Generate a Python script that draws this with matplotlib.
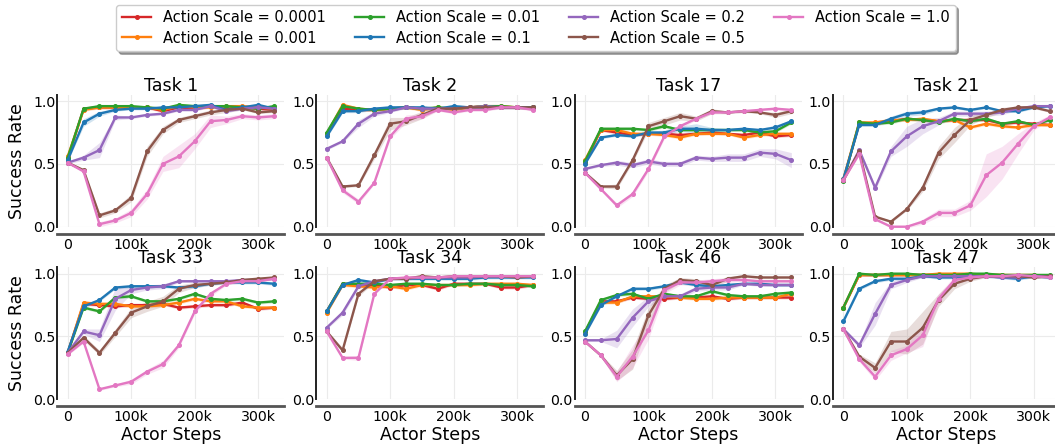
import matplotlib
matplotlib.use("Agg")
import matplotlib.pyplot as plt
import numpy as np

steps = [0, 25000, 50000, 75000, 100000, 125000, 150000, 175000, 200000,
         225000, 250000, 275000, 300000, 325000]
scale_labels = ["Action Scale = 0.0001", "Action Scale = 0.001", "Action Scale = 0.01",
                "Action Scale = 0.1", "Action Scale = 0.2", "Action Scale = 0.5",
                "Action Scale = 1.0"]
colors = ["#d62728", "#ff7f0e", "#2ca02c", "#1f77b4", "#9467bd", "#8c564b", "#e377c2"]
task_names = ["Task 1", "Task 2", "Task 17", "Task 21", "Task 33", "Task 34", "Task 46", "Task 47"]

# mean success rate per task, one list per action scale (0.0001, 0.001, 0.01, 0.1, 0.2, 0.5, 1.0)
task1 = [
    [.54, .94, .95, .95, .95, .95, .92, .95, .94, .96, .94, .95, .94, .93],
    [.56, .93, .95, .95, .95, .95, .93, .96, .95, .95, .96, .96, .95, .94],
    [.55, .94, .96, .96, .96, .95, .94, .97, .96, .96, .96, .95, .94, .96],
    [.53, .83, .90, .93, .94, .94, .95, .95, .96, .97, .93, .95, .97, .94],
    [.51, .55, .61, .87, .87, .89, .90, .93, .93, .96, .92, .94, .95, .94],
    [.51, .45, .09, .13, .23, .60, .77, .85, .88, .91, .93, .94, .91, .92],
    [.51, .44, .02, .05, .11, .26, .50, .56, .68, .84, .85, .88, .87, .88],
]
task2 = [
    [.74, .94, .93, .93, .94, .95, .94, .94, .94, .95, .96, .95, .95, .95],
    [.74, .97, .94, .93, .94, .95, .93, .95, .93, .95, .96, .96, .95, .95],
    [.75, .96, .94, .93, .94, .95, .94, .95, .94, .95, .96, .96, .95, .95],
    [.72, .92, .92, .94, .95, .95, .95, .94, .96, .95, .95, .95, .95, .95],
    [.62, .68, .82, .90, .92, .95, .94, .94, .94, .95, .96, .95, .95, .94],
    [.55, .32, .33, .57, .82, .84, .89, .94, .94, .95, .95, .95, .95, .95],
    [.55, .29, .20, .35, .72, .86, .88, .93, .91, .93, .93, .95, .95, .93],
]
task17 = [
    [.51, .77, .75, .73, .74, .74, .73, .74, .75, .74, .73, .75, .72, .73],
    [.53, .77, .77, .74, .74, .73, .71, .74, .74, .74, .71, .73, .74, .74],
    [.52, .78, .78, .78, .77, .80, .77, .77, .77, .77, .77, .75, .76, .83],
    [.50, .71, .73, .72, .75, .75, .78, .78, .77, .77, .78, .77, .79, .84],
    [.46, .49, .51, .49, .52, .50, .50, .55, .54, .55, .55, .59, .58, .53],
    [.43, .32, .32, .53, .80, .84, .88, .86, .92, .91, .92, .91, .89, .92],
    [.43, .30, .17, .26, .46, .72, .80, .86, .91, .91, .92, .93, .94, .93],
]
task21 = [
    [.37, .82, .82, .84, .86, .85, .84, .85, .85, .85, .82, .83, .82, .81],
    [.38, .83, .83, .85, .85, .86, .84, .85, .79, .82, .80, .79, .81, .81],
    [.36, .83, .82, .83, .86, .85, .83, .86, .84, .86, .82, .84, .81, .85],
    [.38, .81, .81, .86, .90, .91, .94, .95, .93, .95, .92, .92, .95, .96],
    [.37, .61, .31, .60, .72, .80, .84, .90, .90, .90, .91, .94, .96, .96],
    [.37, .60, .08, .04, .14, .31, .59, .73, .85, .89, .93, .95, .95, .92],
    [.37, .58, .06, .00, .00, .04, .11, .11, .17, .41, .51, .66, .80, .87],
]
task33 = [
    [.37, .76, .75, .74, .75, .75, .76, .73, .74, .75, .75, .77, .72, .73],
    [.37, .77, .76, .76, .74, .74, .75, .77, .80, .78, .78, .74, .73, .73],
    [.37, .73, .70, .81, .82, .78, .78, .80, .84, .80, .79, .80, .77, .78],
    [.38, .74, .79, .89, .90, .90, .90, .89, .90, .92, .93, .93, .93, .92],
    [.37, .54, .51, .80, .87, .89, .90, .94, .94, .94, .94, .95, .95, .96],
    [.37, .49, .37, .53, .69, .74, .78, .88, .91, .92, .93, .95, .96, .97],
    [.36, .46, .08, .11, .14, .22, .28, .43, .70, .84, .92, .94, .94, .96],
]
task34 = [
    [.70, .92, .91, .91, .89, .91, .91, .88, .92, .92, .92, .89, .89, .91],
    [.69, .91, .90, .89, .90, .88, .91, .91, .91, .91, .92, .92, .92, .91],
    [.70, .92, .92, .92, .91, .92, .92, .91, .91, .92, .92, .91, .91, .90],
    [.70, .91, .95, .93, .96, .96, .96, .96, .96, .96, .97, .97, .97, .97],
    [.57, .69, .90, .94, .96, .96, .97, .97, .97, .97, .98, .98, .98, .98],
    [.54, .39, .84, .94, .96, .96, .98, .97, .98, .98, .98, .98, .97, .98],
    [.54, .33, .33, .84, .96, .97, .97, .97, .98, .98, .98, .98, .98, .98],
]
task46 = [
    [.53, .78, .78, .81, .80, .80, .81, .81, .82, .80, .81, .81, .81, .81],
    [.53, .77, .77, .82, .82, .82, .81, .80, .80, .81, .81, .81, .81, .84],
    [.54, .79, .83, .84, .80, .84, .82, .82, .86, .83, .82, .82, .84, .85],
    [.52, .75, .82, .88, .88, .90, .93, .91, .90, .91, .92, .92, .91, .91],
    [.47, .47, .48, .65, .78, .82, .82, .88, .89, .89, .92, .91, .91, .91],
    [.46, .35, .19, .32, .67, .88, .95, .94, .91, .96, .98, .97, .97, .97],
    [.46, .35, .18, .34, .55, .87, .93, .93, .94, .95, .95, .94, .94, .94],
]
task47 = [
    [.73, .99, .99, .99, .99, .99, .99, .99, .99, .99, .99, .98, .98, .98],
    [.73, .99, .99, .99, .99, .99, 1.0, 1.0, 1.0, .99, .99, .99, .99, .98],
    [.73, 1.0, .99, 1.0, 1.0, .99, .99, .99, 1.0, 1.0, .99, .99, .99, .99],
    [.62, .88, .94, .96, .96, .98, .97, .97, .98, .98, .97, .96, .98, .97],
    [.56, .43, .68, .91, .95, .98, .98, .98, .98, .98, .97, .97, .98, .98],
    [.56, .34, .25, .46, .46, .57, .79, .92, .96, .98, .98, .98, .97, .98],
    [.56, .32, .18, .35, .40, .51, .80, .95, .97, .98, .98, .99, .98, .97],
]
all_means = [task1, task2, task17, task21, task33, task34, task46, task47]

# half-width of the shaded band, for the series where it is visibly wide
# (task index -> {series index: 14 values}); other series use base_band
base_band = 0.012
bands = {
    0: {3: [.01, .03, .02, .01, .01, .01, .01, .01, .01, .01, .01, .01, .01, .01],
        4: [.01, .02, .06, .02, .01, .01, .01, .01, .01, .01, .01, .01, .01, .01],
        5: [.01, .01, .02, .02, .03, .04, .03, .02, .02, .02, .02, .01, .01, .01],
        6: [.01, .01, .02, .02, .03, .04, .06, .09, .06, .05, .03, .02, .02, .02]},
    1: {4: [.01, .01, .03, .02, .01, .01, .01, .01, .01, .01, .01, .01, .01, .01],
        5: [.01, .01, .01, .03, .05, .03, .03, .01, .01, .01, .01, .01, .01, .01],
        6: [.01, .02, .02, .01, .02, .03, .02, .01, .01, .01, .01, .01, .01, .01]},
    2: {3: [.01, .01, .01, .01, .01, .02, .02, .04, .02, .01, .01, .01, .02, .01],
        4: [.01, .01, .02, .02, .02, .02, .02, .02, .02, .03, .03, .03, .04, .06],
        5: [.01, .01, .02, .02, .03, .03, .03, .02, .02, .01, .01, .01, .02, .02],
        6: [.01, .01, .02, .02, .02, .02, .02, .01, .01, .01, .01, .01, .01, .01]},
    3: {3: [.01, .01, .01, .02, .02, .02, .01, .01, .01, .01, .01, .01, .01, .01],
        4: [.01, .02, .02, .04, .08, .06, .03, .02, .02, .02, .02, .01, .01, .01],
        5: [.01, .01, .01, .01, .01, .03, .05, .06, .04, .02, .02, .01, .01, .01],
        6: [.01, .01, .01, .01, .01, .02, .03, .03, .04, .17, .13, .08, .03, .02]},
    4: {4: [.01, .02, .05, .09, .03, .02, .02, .01, .01, .01, .01, .01, .01, .01],
        5: [.01, .02, .02, .03, .04, .04, .04, .03, .02, .01, .01, .01, .01, .01],
        6: [.01, .01, .01, .01, .02, .02, .03, .02, .02, .02, .01, .01, .01, .01]},
    5: {4: [.01, .02, .02, .01, .01, .01, .01, .01, .01, .01, .01, .01, .01, .01],
        5: [.01, .02, .02, .01, .01, .01, .01, .01, .01, .01, .01, .01, .01, .01],
        6: [.01, .01, .02, .01, .01, .01, .01, .01, .01, .01, .01, .01, .01, .01]},
    6: {4: [.01, .01, .07, .07, .04, .02, .02, .02, .02, .02, .01, .01, .01, .01],
        5: [.01, .01, .04, .08, .06, .03, .02, .02, .02, .02, .01, .01, .01, .01],
        6: [.01, .01, .04, .09, .07, .03, .02, .02, .02, .02, .01, .01, .01, .01]},
    7: {4: [.01, .02, .09, .03, .02, .01, .01, .01, .01, .01, .01, .01, .01, .01],
        5: [.01, .02, .04, .08, .10, .13, .05, .04, .02, .01, .01, .01, .01, .01],
        6: [.01, .02, .03, .04, .03, .09, .04, .03, .02, .01, .01, .01, .01, .01]},
}

x_ticks = [0, 100000, 200000, 300000]
x_tick_labels = ["0", "100k", "200k", "300k"]
y_ticks = [0.0, 0.5, 1.0]
y_tick_labels = ["0.0", "0.5", "1.0"]

plt.rcParams['font.family'] = ['DejaVu Sans']
fig = plt.figure(figsize=(10.55, 4.44), dpi=100)

lefts = [0.0544, 0.2999, 0.5447, 0.7896]
bottoms = [0.4894, 0.1007]
w, h = 0.2152, 0.2970

x = np.array(steps)
handles = None
for ti, name in enumerate(task_names):
    r, c = divmod(ti, 4)
    ax = fig.add_axes([lefts[c], bottoms[r], w, h])
    lines = []
    for si in range(7):
        m = np.array(all_means[ti][si])
        b = np.array(bands.get(ti, {}).get(si, [base_band] * len(steps)))
        ax.fill_between(x, m - b, m + b, color=colors[si], alpha=0.2, lw=0)
        ln, = ax.plot(x, m, color=colors[si], lw=1.7, marker='o', ms=2.6,
                      label=scale_labels[si], clip_on=False)
        lines.append(ln)
    if handles is None:
        handles = lines
    ax.set_xlim(-16250, 341250)
    ax.set_ylim(0, 1.05)
    ax.set_xticks(x_ticks)
    ax.set_xticklabels(x_tick_labels)
    ax.set_yticks(y_ticks)
    ax.set_yticklabels(y_tick_labels)
    ax.tick_params(length=0, labelsize=10.2, pad=3)
    ax.tick_params(axis='y', pad=1.5)
    ax.grid(True, color='#ebebeb', lw=0.8)
    ax.set_axisbelow(True)
    for s in ['top', 'right']:
        ax.spines[s].set_visible(False)
    ax.spines['bottom'].set_position(('outward', 5))
    ax.spines['bottom'].set_color('#555555')
    ax.spines['bottom'].set_linewidth(2.0)
    ax.spines['left'].set_color('#222222')
    ax.spines['left'].set_linewidth(1.4)
    ax.set_title(name, fontsize=12.5, pad=2)
    if c == 0:
        ax.set_ylabel("Success Rate", fontsize=12.5, labelpad=5)
    if r == 1:
        ax.set_xlabel("Actor Steps", fontsize=12.5, labelpad=1)

fig.legend(handles=handles, labels=scale_labels, loc='upper center',
           bbox_to_anchor=(0.508, 1.006), ncol=4, fontsize=10.5, shadow=True,
           frameon=True, handlelength=2.0, columnspacing=2.0, labelspacing=0.35)

fig.savefig("out.png", dpi=100)
